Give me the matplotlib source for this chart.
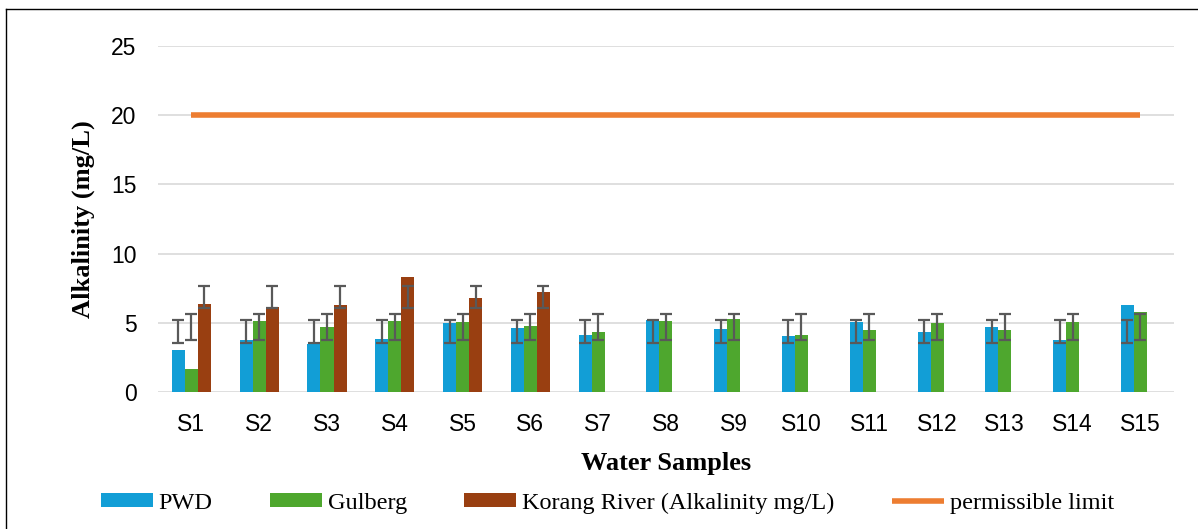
import numpy as np
import matplotlib
matplotlib.use("Agg")
import matplotlib.pyplot as plt
from matplotlib.lines import Line2D

# data
samples = ["S%d" % i for i in range(1, 16)]
pwd = [3.0, 3.77, 3.45, 3.84, 4.95, 4.66, 4.13, 5.19, 4.57, 4.03, 5.07, 4.35, 4.73, 3.74, 6.26]
gulberg = [1.65, 5.14, 4.73, 5.14, 5.05, 4.76, 4.35, 5.14, 5.24, 4.13, 4.47, 4.95, 4.47, 5.05, 5.77]
korang = [6.35, 6.16, 6.26, 8.29, 6.76, 7.25]
limit = [20] * 15

# error bars (centre, half length) as drawn in the original
pwd_err = (4.39, 0.82)
gulberg_err = (4.69, 0.94)
korang_err = (6.87, 0.81)

c_pwd = "#129ED6"
c_gul = "#4EA72E"
c_kor = "#993F11"
c_lim = "#ED7D31"
c_err = "#595959"

fig = plt.figure(figsize=(11.98, 5.29), dpi=100)
ax = fig.add_axes([0.1315, 0.259, 0.8487, 0.654])

x = np.arange(len(samples))
xk = np.arange(len(korang))
w = 0.192

ax.bar(x - w, pwd, w, color=c_pwd, label="PWD", zorder=2)
ax.bar(x, gulberg, w, color=c_gul, label="Gulberg", zorder=2)
ax.bar(xk + w, korang, w, color=c_kor, label="Korang River (Alkalinity mg/L)", zorder=2)

ekw = dict(fmt="none", ecolor=c_err, elinewidth=1.6, capsize=4.3, capthick=1.6, zorder=3)
ax.errorbar(x - w, [pwd_err[0]] * len(x), yerr=pwd_err[1], **ekw)
ax.errorbar(x, [gulberg_err[0]] * len(x), yerr=gulberg_err[1], **ekw)
ax.errorbar(xk + w, [korang_err[0]] * len(xk), yerr=korang_err[1], **ekw)

ax.plot(x, limit, color=c_lim, lw=4, solid_capstyle="butt", label="permissible limit", zorder=4)

ax.set_xlim(-0.5, len(samples) - 0.5)
ax.set_ylim(0, 25)
ax.set_yticks(range(0, 26, 5))
ax.set_xticks(x)
ax.set_xticklabels(samples)
ax.grid(axis="y", color="#D9D9D9", lw=1.2, zorder=0)
ax.set_axisbelow(True)
for s in ax.spines.values():
    s.set_visible(False)
ax.tick_params(axis="both", length=0, labelsize=16.5, labelfontfamily="Liberation Sans")
ax.tick_params(axis="x", pad=15)
ax.tick_params(axis="y", pad=15)

ax.set_ylabel("Alkalinity (mg/L)", family="Liberation Serif", weight="bold", fontsize=19, labelpad=12)
ax.set_xlabel("Water Samples", family="Liberation Serif", weight="bold", fontsize=19, labelpad=12)

h, l = ax.get_legend_handles_labels()
order = [1, 2, 3, 0]
fig.legend([h[i] for i in order], [l[i] for i in order], loc="center", bbox_to_anchor=(0.507, 0.049),
           ncol=4, frameon=False, prop={"family": "Liberation Serif", "size": 17.5},
           handlelength=2.14, handleheight=0.5, handletextpad=0.25, columnspacing=2.35)

# chart border (left and top visible)
fig.add_artist(Line2D([0.005, 0.005], [0, 0.983], transform=fig.transFigure, color="black", lw=1))
fig.add_artist(Line2D([0.005, 1], [0.983, 0.983], transform=fig.transFigure, color="black", lw=1))

fig.savefig("out.png", dpi=100)
